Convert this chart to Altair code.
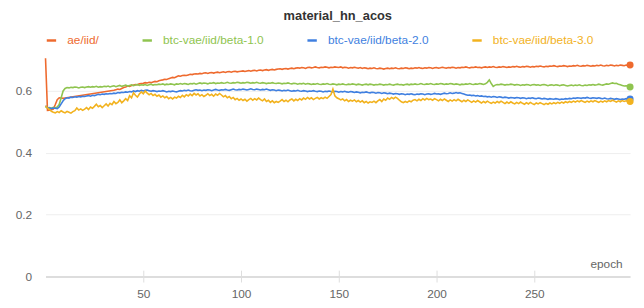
import altair as alt
import pandas as pd

series_names = ["ae/iid/", "btc-vae/iid/beta-1.0", "btc-vae/iid/beta-2.0", "btc-vae/iid/beta-3.0"]
series_colors = ["#EE6A2E", "#8FC44F", "#3F7FE0", "#F2B21E"]
epochs = list(range(300))
N = None

ae_iid = [
    0.706, 0.537, 0.538, 0.539, 0.541, 0.556, 0.572, 0.578, 0.577, 0.576,
    0.577, N, N, N, N, N, N, N, N, N,
    N, N, N, N, N, N, N, N, N, N,
    N, N, N, N, N, 0.602, 0.604, 0.606, 0.605, 0.608,
    0.611, 0.613, 0.616, 0.615, 0.618, 0.619, 0.621, 0.620, 0.623, 0.624,
    0.625, 0.627, 0.626, 0.628, 0.627, 0.629, 0.631, 0.630, 0.633, 0.635,
    0.636, 0.638, 0.637, 0.640, 0.642, 0.644, 0.643, 0.646, 0.649, 0.648,
    0.650, 0.651, 0.650, 0.652, 0.654, 0.653, 0.655, 0.656, 0.655, 0.657,
    0.656, 0.658, 0.659, 0.657, 0.659, 0.660, 0.658, 0.660, 0.661, 0.659,
    0.661, 0.662, 0.660, 0.662, 0.663, 0.661, 0.663, 0.664, 0.662, 0.663,
    0.664, 0.665, 0.663, 0.665, 0.666, 0.664, 0.666, 0.667, 0.665, 0.667,
    0.668, 0.666, 0.668, 0.669, 0.667, 0.669, 0.670, 0.668, 0.670, 0.671,
    0.672, 0.670, 0.672, 0.673, 0.671, 0.673, 0.674, 0.672, 0.674, 0.675,
    0.674, 0.676, 0.675, 0.673, 0.676, 0.677, 0.675, 0.676, 0.678, 0.676,
    0.675, 0.677, 0.676, 0.678, 0.677, 0.675, 0.677, 0.676, 0.678, 0.677,
    0.676, 0.678, 0.675, 0.677, 0.676, 0.674, 0.676, 0.675, 0.677, 0.675,
    0.674, 0.676, 0.673, 0.675, 0.674, 0.672, 0.674, 0.673, 0.675, 0.673,
    0.672, 0.674, 0.673, 0.671, 0.673, 0.674, 0.672, 0.674, 0.673, 0.675,
    0.673, 0.672, 0.674, 0.673, 0.675, 0.674, 0.672, 0.674, 0.673, 0.675,
    0.674, 0.676, 0.674, 0.673, 0.675, 0.674, 0.676, 0.675, 0.673, 0.675,
    0.676, 0.674, 0.675, 0.677, 0.675, 0.674, 0.676, 0.675, 0.677, 0.676,
    0.674, 0.676, 0.675, 0.677, 0.676, 0.678, 0.676, 0.675, 0.677, 0.676,
    0.678, 0.676, 0.677, 0.675, 0.677, 0.678, 0.676, 0.678, 0.677, 0.679,
    0.677, 0.676, 0.678, 0.677, 0.679, 0.678, 0.676, 0.678, 0.677, 0.679,
    0.678, 0.680, 0.678, 0.677, 0.679, 0.678, 0.680, 0.679, 0.677, 0.679,
    0.678, 0.680, 0.679, 0.681, 0.679, 0.678, 0.680, 0.679, 0.681, 0.680,
    0.682, 0.680, 0.679, 0.681, 0.680, 0.682, 0.681, 0.679, 0.681, 0.680,
    0.682, 0.681, 0.683, 0.681, 0.680, 0.682, 0.681, 0.683, 0.682, 0.680,
    0.682, 0.681, 0.683, 0.682, 0.684, 0.682, 0.681, 0.683, 0.682, 0.684,
    0.683, 0.681, 0.683, 0.682, 0.684, 0.683, 0.682, 0.684, 0.683, 0.684,
]

beta_1 = [
    0.548, 0.545, 0.546, 0.544, 0.547, 0.545, 0.548, 0.556, 0.578, 0.600,
    0.608, 0.611, 0.610, 0.612, 0.611, 0.613, 0.612, 0.610, 0.612, 0.613,
    0.611, 0.613, 0.614, 0.612, 0.614, 0.613, 0.615, 0.612, 0.614, 0.613,
    0.615, 0.614, 0.616, 0.613, 0.615, 0.617, 0.614, 0.616, 0.618, 0.615,
    0.617, 0.619, 0.616, 0.618, 0.620, 0.617, 0.619, 0.621, 0.618, 0.620,
    0.619, 0.621, 0.618, 0.620, 0.622, 0.619, 0.621, 0.620, 0.622, 0.621,
    0.623, 0.620, 0.622, 0.621, 0.623, 0.622, 0.620, 0.623, 0.622, 0.624,
    0.622, 0.624, 0.623, 0.621, 0.624, 0.623, 0.625, 0.622, 0.624, 0.626,
    0.624, 0.626, 0.625, 0.623, 0.626, 0.625, 0.627, 0.624, 0.626, 0.625,
    0.627, 0.625, 0.626, 0.628, 0.626, 0.625, 0.627, 0.626, 0.628, 0.627,
    0.625, 0.627, 0.626, 0.628, 0.627, 0.625, 0.627, 0.626, 0.628, 0.626,
    0.625, 0.627, 0.626, 0.624, 0.626, 0.625, 0.627, 0.625, 0.624, 0.626,
    0.625, 0.623, 0.625, 0.624, 0.626, 0.624, 0.623, 0.625, 0.624, 0.622,
    0.624, 0.623, 0.625, 0.622, 0.624, 0.623, 0.621, 0.623, 0.622, 0.624,
    0.622, 0.621, 0.623, 0.622, 0.624, 0.622, 0.621, 0.623, 0.622, 0.620,
    0.622, 0.621, 0.623, 0.621, 0.620, 0.622, 0.621, 0.623, 0.622, 0.620,
    0.622, 0.621, 0.619, 0.621, 0.622, 0.620, 0.622, 0.621, 0.619, 0.621,
    0.620, 0.622, 0.621, 0.619, 0.621, 0.620, 0.622, 0.620, 0.619, 0.621,
    0.622, 0.620, 0.621, 0.619, 0.621, 0.622, 0.620, 0.622, 0.621, 0.623,
    0.621, 0.622, 0.624, 0.622, 0.621, 0.623, 0.622, 0.624, 0.622, 0.621,
    0.623, 0.622, 0.624, 0.623, 0.621, 0.623, 0.622, 0.624, 0.623, 0.621,
    0.623, 0.622, 0.620, 0.622, 0.621, 0.623, 0.622, 0.624, 0.622, 0.621,
    0.623, 0.622, 0.624, 0.623, 0.621, 0.623, 0.628, 0.636, 0.624, 0.615,
    0.619, 0.621, 0.620, 0.622, 0.621, 0.619, 0.621, 0.620, 0.622, 0.621,
    0.619, 0.621, 0.620, 0.618, 0.620, 0.619, 0.621, 0.620, 0.618, 0.620,
    0.621, 0.619, 0.620, 0.618, 0.620, 0.621, 0.619, 0.617, 0.619, 0.620,
    0.618, 0.620, 0.619, 0.617, 0.619, 0.620, 0.618, 0.616, 0.618, 0.619,
    0.617, 0.619, 0.618, 0.620, 0.618, 0.617, 0.619, 0.618, 0.620, 0.619,
    0.621, 0.619, 0.620, 0.622, 0.620, 0.619, 0.621, 0.623, 0.622, 0.624,
    0.626, 0.624, 0.625, 0.622, 0.620, 0.618, 0.616, 0.617, 0.615, 0.613,
]

beta_2 = [
    0.552, 0.546, 0.545, 0.543, 0.545, 0.544, 0.543, 0.548, 0.558, 0.568,
    0.575, 0.578, 0.577, 0.580, 0.579, 0.581, 0.580, 0.582, 0.581, 0.583,
    0.582, 0.584, 0.585, 0.583, 0.586, 0.585, 0.587, 0.589, 0.588, 0.590,
    0.589, 0.591, 0.590, 0.592, 0.591, 0.593, 0.592, 0.595, 0.594, 0.596,
    0.595, 0.597, 0.596, 0.598, 0.597, 0.600, 0.598, 0.601, 0.599, 0.602,
    0.600, 0.602, 0.603, 0.601, 0.599, 0.601, 0.600, 0.598, 0.600, 0.599,
    0.601, 0.599, 0.597, 0.599, 0.598, 0.600, 0.598, 0.597, 0.599, 0.601,
    0.600, 0.602, 0.601, 0.603, 0.601, 0.600, 0.602, 0.604, 0.602, 0.603,
    0.601, 0.603, 0.602, 0.604, 0.603, 0.601, 0.603, 0.605, 0.603, 0.602,
    0.604, 0.603, 0.605, 0.603, 0.602, 0.604, 0.606, 0.604, 0.603, 0.605,
    0.604, 0.606, 0.605, 0.603, 0.605, 0.607, 0.605, 0.604, 0.606, 0.605,
    0.603, 0.605, 0.604, 0.606, 0.604, 0.602, 0.604, 0.603, 0.601, 0.603,
    0.602, 0.600, 0.602, 0.601, 0.603, 0.601, 0.599, 0.601, 0.600, 0.602,
    0.600, 0.599, 0.601, 0.600, 0.598, 0.600, 0.599, 0.601, 0.599, 0.598,
    0.600, 0.599, 0.597, 0.599, 0.598, 0.600, 0.598, 0.597, 0.599, 0.598,
    0.596, 0.598, 0.597, 0.599, 0.597, 0.596, 0.598, 0.597, 0.595, 0.597,
    0.596, 0.594, 0.596, 0.595, 0.597, 0.595, 0.594, 0.596, 0.595, 0.593,
    0.595, 0.594, 0.592, 0.594, 0.593, 0.591, 0.593, 0.592, 0.590, 0.592,
    0.591, 0.589, 0.591, 0.590, 0.588, 0.590, 0.589, 0.591, 0.589, 0.588,
    0.590, 0.589, 0.591, 0.590, 0.588, 0.590, 0.591, 0.589, 0.590, 0.592,
    0.590, 0.591, 0.589, 0.591, 0.593, 0.591, 0.592, 0.594, 0.592, 0.593,
    0.595, 0.593, 0.594, 0.592, 0.590, 0.588, 0.586, 0.587, 0.585, 0.586,
    0.584, 0.585, 0.583, 0.584, 0.582, 0.583, 0.581, 0.582, 0.580, 0.582,
    0.581, 0.579, 0.581, 0.580, 0.578, 0.580, 0.579, 0.577, 0.579, 0.578,
    0.577, 0.579, 0.578, 0.576, 0.578, 0.577, 0.575, 0.577, 0.576, 0.578,
    0.576, 0.575, 0.577, 0.576, 0.574, 0.576, 0.575, 0.573, 0.575, 0.574,
    0.573, 0.575, 0.574, 0.572, 0.574, 0.573, 0.575, 0.574, 0.576, 0.575,
    0.577, 0.576, 0.578, 0.577, 0.576, 0.578, 0.577, 0.579, 0.577, 0.576,
    0.578, 0.577, 0.576, 0.578, 0.576, 0.575, 0.577, 0.575, 0.574, 0.576,
    0.575, 0.573, 0.575, 0.574, 0.572, 0.574, 0.573, 0.575, 0.574, 0.574,
]

beta_3 = [
    0.552, 0.545, 0.540, 0.534, 0.531, 0.529, 0.533, 0.530, 0.536, 0.532,
    0.529, 0.534, 0.531, 0.528, 0.533, 0.536, 0.545, 0.538, 0.542, 0.537,
    0.541, 0.546, 0.540, 0.548, 0.544, 0.550, 0.557, 0.549, 0.553, 0.546,
    0.552, 0.558, 0.551, 0.560, 0.556, 0.566, 0.559, 0.563, 0.571, 0.562,
    0.568, 0.575, 0.569, 0.585, 0.578, 0.594, 0.586, 0.580, 0.590, 0.597,
    0.591, 0.600, 0.593, 0.588, 0.592, 0.585, 0.589, 0.583, 0.587, 0.580,
    0.584, 0.578, 0.582, 0.575, 0.579, 0.574, 0.580, 0.577, 0.583, 0.579,
    0.586, 0.581, 0.588, 0.584, 0.590, 0.585, 0.592, 0.587, 0.591, 0.584,
    0.588, 0.582, 0.586, 0.591, 0.585, 0.589, 0.583, 0.590, 0.586, 0.592,
    0.587, 0.581, 0.585, 0.578, 0.582, 0.575, 0.579, 0.572, 0.576, 0.570,
    0.574, 0.569, 0.573, 0.567, 0.572, 0.576, 0.570, 0.575, 0.571, 0.577,
    0.572, 0.568, 0.574, 0.566, 0.570, 0.563, 0.568, 0.562, 0.566, 0.563,
    0.567, 0.572, 0.566, 0.570, 0.565, 0.571, 0.574, 0.568, 0.573, 0.569,
    0.575, 0.571, 0.577, 0.573, 0.579, 0.574, 0.578, 0.572, 0.576, 0.579,
    0.574, 0.578, 0.575, 0.580, 0.576, 0.582, 0.588, 0.606, 0.584, 0.578,
    0.575, 0.571, 0.574, 0.568, 0.572, 0.566, 0.570, 0.567, 0.571, 0.565,
    0.569, 0.564, 0.568, 0.562, 0.566, 0.561, 0.565, 0.563, 0.567, 0.562,
    0.568, 0.572, 0.566, 0.574, 0.570, 0.577, 0.573, 0.579, 0.575, 0.580,
    0.576, 0.570, 0.565, 0.562, 0.566, 0.563, 0.568, 0.565, 0.570, 0.572,
    0.568, 0.573, 0.569, 0.575, 0.571, 0.576, 0.572, 0.574, 0.570, 0.575,
    0.572, 0.568, 0.573, 0.569, 0.574, 0.570, 0.566, 0.571, 0.567, 0.572,
    0.568, 0.573, 0.569, 0.565, 0.570, 0.566, 0.571, 0.567, 0.563, 0.568,
    0.564, 0.569, 0.565, 0.561, 0.566, 0.562, 0.567, 0.563, 0.560, 0.564,
    0.561, 0.566, 0.562, 0.567, 0.563, 0.559, 0.564, 0.560, 0.565, 0.561,
    0.558, 0.563, 0.559, 0.564, 0.560, 0.557, 0.562, 0.558, 0.563, 0.559,
    0.556, 0.561, 0.558, 0.562, 0.559, 0.556, 0.560, 0.557, 0.561, 0.558,
    0.562, 0.559, 0.563, 0.560, 0.564, 0.561, 0.565, 0.562, 0.566, 0.563,
    0.567, 0.564, 0.568, 0.565, 0.569, 0.566, 0.563, 0.567, 0.564, 0.568,
    0.565, 0.569, 0.566, 0.563, 0.567, 0.564, 0.568, 0.565, 0.569, 0.566,
    0.570, 0.567, 0.564, 0.568, 0.565, 0.569, 0.566, 0.568, 0.565, 0.566,
]

x_ticks = [50, 100, 150, 200, 250]
y_ticks = [0, 0.2, 0.4, 0.6]

rows = []
for name, vals in zip(series_names, [ae_iid, beta_1, beta_2, beta_3]):
    for e, v in zip(epochs, vals):
        if v is not None:
            rows.append({"epoch": e, "value": v, "series": name})
df = pd.DataFrame(rows)
last = df.groupby("series", sort=False).tail(1)

FONT = "Liberation Sans"

color = alt.Color(
    "series:N",
    scale=alt.Scale(domain=series_names, range=series_colors),
    legend=alt.Legend(
        title=None,
        orient="none",
        legendX=0,
        legendY=-24,
        direction="horizontal",
        columns=4,
        symbolType="stroke",
        symbolStrokeWidth=2.5,
        symbolSize=90,
        labelFontSize=12,
        labelFont=FONT,
        labelOffset=10,
        columnPadding=38,
        labelColor=alt.ExprRef("scale('color', datum.value)"),
    ),
)

x = alt.X(
    "epoch:Q",
    scale=alt.Scale(domain=[0, 299], nice=False, zero=False),
    axis=alt.Axis(
        values=x_ticks,
        grid=False,
        domain=False,
        tickColor="#dddddd",
        tickSize=12,
        offset=-6,
        labelPadding=7,
        labelColor="#666666",
        labelFontSize=12,
        labelFont=FONT,
        title="epoch",
        titleX=584,
        titleY=-3,
        titleAlign="right",
        titleBaseline="alphabetic",
        titleFontWeight="normal",
        titleColor="#666666",
        titleFontSize=12,
        titleFont=FONT,
    ),
)

y = alt.Y(
    "value:Q",
    scale=alt.Scale(domain=[0, 0.706], nice=False),
    axis=alt.Axis(
        values=y_ticks,
        format="~g",
        title=None,
        domain=False,
        ticks=False,
        labelPadding=14,
        labelColor="#666666",
        labelFontSize=12,
        labelFont=FONT,
        gridColor=alt.condition("datum.value == 0", alt.value("#dddddd"), alt.value("#eeeeee")),
        gridWidth=alt.condition("datum.value == 0", alt.value(2), alt.value(1)),
    ),
)

lines = alt.Chart(df).mark_line(strokeWidth=1.6).encode(
    x=x, y=y, color=color, order="epoch:Q"
)
dots = alt.Chart(last).mark_circle(size=50, opacity=1).encode(
    x="epoch:Q", y="value:Q", color=alt.Color("series:N", legend=None)
)

chart = (
    alt.layer(lines, dots)
    .properties(
        width=592,
        height=220.6,
        title=alt.TitleParams(
            "material_hn_acos",
            fontSize=13,
            fontWeight="bold",
            font=FONT,
            color="#333333",
            anchor="middle",
            offset=12,
        ),
        autosize=alt.AutoSizeParams(type="none"),
        padding={"left": 38, "top": 49, "right": 6, "bottom": 30},
    )
    .configure_view(stroke=None)
)

chart.save("out.html", embed_options={"renderer": "svg", "actions": False})
